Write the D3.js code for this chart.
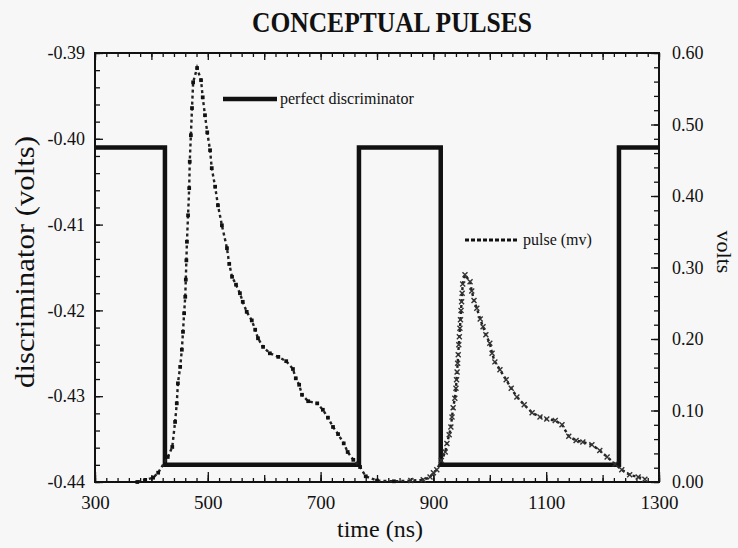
<!DOCTYPE html>
<html>
<head>
<meta charset="utf-8">
<script src="https://cdnjs.cloudflare.com/ajax/libs/d3/7.8.5/d3.min.js"></script>
<style>
	body { margin: 0; background: #f7f7f7; }
	svg { display: block; }
	text { font-family: "Liberation Serif", "Times New Roman", serif; fill: #111; }
</style>
</head>
<body>
<script>
window.onload = function() {
	chart.init();
}

// tick labels
var timeTicks = [300, 500, 700, 900, 1100, 1300];
var discTicks = [-0.44, -0.43, -0.42, -0.41, -0.40, -0.39];
var voltTicks = [0, 0.1, 0.2, 0.3, 0.4, 0.5, 0.6];

// perfect discriminator (left axis), step levels starting at each time
var discTime = [300, 424, 768, 913, 1229, 1300];
var discLevel = [-0.401, -0.438, -0.401, -0.438, -0.401, -0.401];

// pulse (right axis, volts)
var pulseTime = [375, 389, 403, 412, 429, 437, 442, 445, 447, 451, 454, 456, 458, 460, 461, 462,
	463, 465, 467, 468, 470, 472, 474, 481, 488, 491, 495, 499, 504, 507, 513, 518,
	525, 534, 538, 543, 550, 557, 562, 569, 578, 584, 589, 598, 610, 625, 639, 651,
	656, 662, 667, 678, 694, 704, 713, 722, 731, 741, 748, 758, 770, 780,
	800, 830, 860, 882, 894,
	900, 906, 914, 921, 924, 928, 931, 933, 935, 938, 940, 941, 942, 943, 944, 945,
	946, 947, 948, 949, 950, 951, 952, 956, 965, 968, 972, 977, 983, 988, 993, 1000,
	1004, 1009, 1018, 1029, 1038, 1048, 1061, 1075, 1089, 1101, 1116, 1128, 1140, 1153,
	1165, 1181, 1195, 1208, 1222, 1234, 1248, 1263, 1275];
var pulseVolts = [0.000, 0.003, 0.006, 0.013, 0.035, 0.049, 0.084, 0.110, 0.138, 0.161, 0.185, 0.210, 0.236, 0.259, 0.283, 0.310,
	0.336, 0.373, 0.411, 0.448, 0.485, 0.523, 0.559, 0.579, 0.562, 0.538, 0.513, 0.489, 0.464, 0.439, 0.413, 0.387,
	0.359, 0.327, 0.305, 0.287, 0.276, 0.264, 0.252, 0.238, 0.226, 0.213, 0.201, 0.189, 0.180, 0.175, 0.169, 0.158,
	0.145, 0.136, 0.122, 0.113, 0.110, 0.101, 0.090, 0.077, 0.067, 0.054, 0.042, 0.031, 0.021, 0.008,
	0.002, 0.001, 0.002, 0.003, 0.007,
	0.013, 0.017, 0.030, 0.042, 0.054, 0.066, 0.077, 0.091, 0.104, 0.117, 0.131, 0.143, 0.154, 0.166, 0.178, 0.192,
	0.203, 0.215, 0.227, 0.240, 0.252, 0.264, 0.277, 0.290, 0.280, 0.267, 0.254, 0.243, 0.228, 0.217, 0.206, 0.194,
	0.180, 0.168, 0.157, 0.143, 0.131, 0.119, 0.108, 0.097, 0.091, 0.088, 0.086, 0.080, 0.064, 0.058,
	0.056, 0.052, 0.044, 0.035, 0.025, 0.017, 0.010, 0.007, 0.004];

var chart = {

	svg: null,
	width: 738,
	height: 548,
	left: 95, right: 659, top: 53, bottom: 482,

	init: function() {
		this.svg = d3.select("body").append("svg")
			.attr("width", this.width)
			.attr("height", this.height);

		this.x = d3.scaleLinear().domain([300, 1300]).range([this.left, this.right]);
		this.yDisc = d3.scaleLinear().domain([-0.44, -0.39]).range([this.bottom, this.top]);
		this.yVolt = d3.scaleLinear().domain([0, 0.6]).range([this.bottom, this.top]);

		this.axes();
		this.lines();
		this.legend();
		this.labels();
	},

	tickAxis: function(axis, pos, values, size, pad, fmt) {
		var g = this.svg.append("g")
			.attr("transform", pos)
			.call(axis.tickValues(values).tickSizeInner(size).tickSizeOuter(0)
				.tickPadding(pad).tickFormat(fmt || ""));
		g.select(".domain").remove();
		g.selectAll("line").attr("stroke", "#111").attr("stroke-width", 1.3);
		g.selectAll("text")
			.style("font-family", '"Liberation Serif", serif')
			.style("font-size", "18px")
			.attr("fill", "#111");
		return g;
	},

	axes: function() {
		var fmt2 = function(d) { return d.toFixed(2); };
		var b = "translate(0," + this.bottom + ")", t = "translate(0," + this.top + ")";
		var l = "translate(" + this.left + ",0)", r = "translate(" + this.right + ",0)";

		// x minor / mid / major
		var minorX = d3.range(300, 1301, 20);
		var midX = d3.range(300, 1301, 100);
		this.tickAxis(d3.axisBottom(this.x), b, minorX, -4, 0);
		this.tickAxis(d3.axisBottom(this.x), b, midX, -7, 0);
		var xb = this.tickAxis(d3.axisBottom(this.x), b, timeTicks, -10, 14, d3.format("d"));
		xb.selectAll("text").style("font-size", "19px");
		this.tickAxis(d3.axisTop(this.x), t, minorX, -4, 0);
		this.tickAxis(d3.axisTop(this.x), t, midX, -7, 0);

		// left: discriminator
		this.tickAxis(d3.axisLeft(this.yDisc), l, d3.range(-0.44, -0.3899, 0.002), -5, 0);
		this.tickAxis(d3.axisLeft(this.yDisc), l, discTicks, -8, 10, fmt2);

		// right: volts
		this.tickAxis(d3.axisRight(this.yVolt), r, d3.range(0, 0.6001, 0.02), -5, 0);
		this.tickAxis(d3.axisRight(this.yVolt), r, voltTicks, -8, 13, fmt2);

		this.svg.append("rect")
			.attr("x", this.left).attr("y", this.top)
			.attr("width", this.right - this.left)
			.attr("height", this.bottom - this.top)
			.attr("fill", "none")
			.attr("stroke", "#111")
			.attr("stroke-width", 2);
	},

	lines: function() {
		var x = this.x, yD = this.yDisc, yV = this.yVolt;

		var step = d3.line()
			.x(function(d) { return x(discTime[d]); })
			.y(function(d) { return yD(discLevel[d]); })
			.curve(d3.curveStepAfter);
		this.svg.append("path")
			.attr("d", step(d3.range(discTime.length)))
			.attr("fill", "none")
			.attr("stroke", "#111")
			.attr("stroke-width", 4.5);

		var pts = pulseTime.map(function(t, i) { return [t, pulseVolts[i]]; });
		var line = d3.line()
			.x(function(d) { return x(d[0]); })
			.y(function(d) { return yV(d[1]); });
		this.svg.append("path")
			.attr("d", line(pts))
			.attr("fill", "none")
			.attr("stroke", "#222")
			.attr("stroke-width", 2.4)
			.attr("stroke-dasharray", "3,3");

		var sq = d3.symbol().type(d3.symbolSquare).size(14);
		var cross = d3.symbol().type(d3.symbolTimes || d3.symbolCross).size(18);
		this.svg.append("g").selectAll("path")
			.data(pts)
			.join("path")
			.attr("transform", function(d) { return "translate(" + x(d[0]) + "," + yV(d[1]) + ")"; })
			.attr("d", function(d) { return d[0] < 850 ? sq() : cross(); })
			.attr("fill", function(d) { return d[0] < 850 ? "#111" : "none"; })
			.attr("stroke", function(d) { return d[0] < 850 ? "none" : "#333"; })
			.attr("stroke-width", 1.4);
	},

	legend: function() {
		this.svg.append("line")
			.attr("x1", 223).attr("x2", 277).attr("y1", 99).attr("y2", 99)
			.attr("stroke", "#111").attr("stroke-width", 4.5);
		this.svg.append("text")
			.attr("x", 280).attr("y", 104)
			.style("font-size", "16px")
			.text("perfect discriminator");

		this.svg.append("line")
			.attr("x1", 465).attr("x2", 517).attr("y1", 240).attr("y2", 240)
			.attr("stroke", "#111").attr("stroke-width", 3)
			.attr("stroke-dasharray", "4,2");
		this.svg.append("text")
			.attr("x", 523).attr("y", 245)
			.style("font-size", "16px")
			.text("pulse (mv)");
	},

	labels: function() {
		this.svg.append("text")
			.attr("x", 392).attr("y", 32)
			.attr("text-anchor", "middle")
			.attr("textLength", 280)
			.attr("lengthAdjust", "spacingAndGlyphs")
			.style("font-size", "29px")
			.style("font-weight", "bold")
			.text("CONCEPTUAL PULSES");

		this.svg.append("text")
			.attr("x", 380).attr("y", 537)
			.attr("text-anchor", "middle")
			.style("font-size", "24px")
			.text("time (ns)");

		this.svg.append("text")
			.attr("transform", "translate(34,262) rotate(-90)")
			.attr("text-anchor", "middle")
			.attr("textLength", 252)
			.attr("lengthAdjust", "spacingAndGlyphs")
			.style("font-size", "28px")
			.text("discriminator (volts)");

		this.svg.append("text")
			.attr("transform", "translate(717,252) rotate(90)")
			.attr("text-anchor", "middle")
			.style("font-size", "22px")
			.text("volts");
	}

};
</script>
</body>
</html>
